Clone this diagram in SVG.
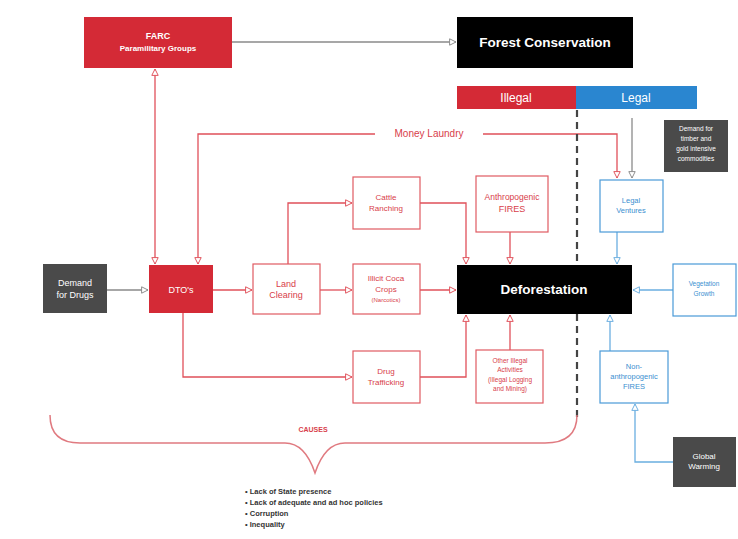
<svg xmlns="http://www.w3.org/2000/svg" width="738" height="539" viewBox="0 0 738 539">
<style>
text{font-family:"Liberation Sans",Arial,sans-serif;text-anchor:middle}
.wt{fill:#fff}
.rt{fill:#d8404a;font-size:8px}
.bt{fill:#3a8fd0;font-size:7.5px}
.redbox{fill:#fff;stroke:#e05a62;stroke-width:1.2}
.bluebox{fill:#fff;stroke:#4a9ad8;stroke-width:1.2}
.red{fill:none;stroke:#e0505a;stroke-width:1.3}
.blue{fill:none;stroke:#6aaee0;stroke-width:1.3}
.grey{fill:none;stroke:#8a8a8a;stroke-width:1.3}
</style>
<defs>
<marker id="ar" viewBox="0 0 10 10" refX="9" refY="5" markerWidth="8" markerHeight="8" orient="auto-start-reverse" markerUnits="userSpaceOnUse"><path d="M1,1 L9,5 L1,9 Z" fill="#fff" stroke="#e0505a" stroke-width="1.2"/></marker>
<marker id="ab" viewBox="0 0 10 10" refX="9" refY="5" markerWidth="8" markerHeight="8" orient="auto-start-reverse" markerUnits="userSpaceOnUse"><path d="M1,1 L9,5 L1,9 Z" fill="#fff" stroke="#6aaee0" stroke-width="1.2"/></marker>
<marker id="ag" viewBox="0 0 10 10" refX="9" refY="5" markerWidth="8" markerHeight="8" orient="auto-start-reverse" markerUnits="userSpaceOnUse"><path d="M1,1 L9,5 L1,9 Z" fill="#fff" stroke="#8a8a8a" stroke-width="1.2"/></marker>
</defs>
<rect width="738" height="539" fill="#fff"/>

<g id="connectors">
<path class="grey" d="M232,42 H456" marker-end="url(#ag)"/>
<path class="red" d="M155,69 V264" marker-start="url(#ar)" marker-end="url(#ar)"/>
<path class="red" d="M198,264 V134 H617 V178" marker-start="url(#ar)" marker-end="url(#ar)"/>
<path class="grey" d="M632,118 V178" marker-end="url(#ag)"/>
<path class="grey" d="M107,290 H148" marker-end="url(#ag)"/>
<path class="red" d="M213,290 H252" marker-end="url(#ar)"/>
<path class="red" d="M288,264 V203 H352" marker-end="url(#ar)"/>
<path class="red" d="M320,290 H352" marker-end="url(#ar)"/>
<path class="red" d="M420,290 H456" marker-end="url(#ar)"/>
<path class="red" d="M420,203 H466 V264" marker-end="url(#ar)"/>
<path class="red" d="M510,232 V264" marker-end="url(#ar)"/>
<path class="red" d="M183,313 V377 H352" marker-end="url(#ar)"/>
<path class="red" d="M420,377 H466 V315" marker-end="url(#ar)"/>
<path class="red" d="M510,350 V315" marker-end="url(#ar)"/>
<path class="blue" d="M617,232 V264" marker-end="url(#ab)"/>
<path class="blue" d="M673,290 H633" marker-end="url(#ab)"/>
<path class="blue" d="M610,351 V315" marker-end="url(#ab)"/>
<path class="blue" d="M673,462 H635 V404" marker-end="url(#ab)"/>
</g>

<line x1="577" y1="110" x2="577" y2="420" stroke="#444" stroke-width="2.2" stroke-dasharray="7,5"/>
<rect x="375" y="127" width="108" height="12" fill="#fff"/>
<text x="429" y="137" class="rt" style="font-size:10px">Money Laundry</text>

<g id="farc">
<rect x="84" y="17" width="148" height="51" fill="#d42a36"/>
<text x="158" y="39" class="wt" font-size="9" font-weight="bold">FARC</text>
<text x="158" y="51" class="wt" font-size="8" font-weight="bold">Paramilitary Groups</text>
</g>
<g id="forest">
<rect x="457" y="17" width="176" height="51" fill="#000"/>
<text x="545" y="47" class="wt" font-size="13.5" font-weight="bold">Forest Conservation</text>
</g>
<g id="illegal">
<rect x="457" y="86" width="119" height="23" fill="#d42a36"/>
<text x="516" y="102" class="wt" font-size="12">Illegal</text>
</g>
<g id="legal">
<rect x="576" y="86" width="121" height="23" fill="#2a86d0"/>
<text x="636" y="102" class="wt" font-size="12">Legal</text>
</g>
<g id="demandTimber">
<rect x="664" y="120" width="64" height="52" fill="#4a4a4a"/>
<text x="696" y="131" class="wt" font-size="6.5">Demand for</text>
<text x="696" y="141" class="wt" font-size="6.5">timber and</text>
<text x="696" y="151" class="wt" font-size="6.5">gold intensive</text>
<text x="696" y="161" class="wt" font-size="6.5">commodities</text>
</g>
<g id="legalVentures">
<rect x="600" y="180" width="63" height="52" class="bluebox"/>
<text x="631" y="203" class="bt">Legal</text>
<text x="631" y="213" class="bt">Ventures</text>
</g>
<g id="demandDrugs">
<rect x="43" y="264" width="64" height="49" fill="#4a4a4a"/>
<text x="75" y="286" class="wt" font-size="9">Demand</text>
<text x="75" y="298" class="wt" font-size="9">for Drugs</text>
</g>
<g id="dto">
<rect x="149" y="265" width="64" height="48" fill="#d42a36"/>
<text x="181" y="293" class="wt" font-size="9">DTO's</text>
</g>
<g id="landClearing">
<rect x="253" y="264" width="67" height="50" class="redbox"/>
<text x="286" y="287" class="rt" style="font-size:9px">Land</text>
<text x="286" y="298" class="rt" style="font-size:9px">Clearing</text>
</g>
<g id="cattle">
<rect x="353" y="177" width="67" height="52" class="redbox"/>
<text x="386" y="200" class="rt">Cattle</text>
<text x="386" y="211" class="rt">Ranching</text>
</g>
<g id="coca">
<rect x="353" y="264" width="67" height="50" class="redbox"/>
<text x="386" y="281" class="rt">Illicit Coca</text>
<text x="386" y="292" class="rt">Crops</text>
<text x="386" y="302" class="rt" style="font-size:6px">(Narcotics)</text>
</g>
<g id="fires">
<rect x="476" y="176" width="72" height="56" class="redbox"/>
<text x="512" y="200" class="rt" style="font-size:8.5px">Anthropogenic</text>
<text x="512" y="212" class="rt" style="font-size:9px">FIRES</text>
</g>
<g id="deforestation">
<rect x="457" y="265" width="175" height="49" fill="#000"/>
<text x="544" y="294" class="wt" font-size="13.5" font-weight="bold">Deforestation</text>
</g>
<g id="vegetation">
<rect x="673" y="264" width="63" height="52" class="bluebox"/>
<text x="704" y="286" class="bt" style="font-size:6.5px">Vegetation</text>
<text x="704" y="296" class="bt" style="font-size:6.5px">Growth</text>
</g>
<g id="drugTrafficking">
<rect x="353" y="351" width="67" height="52" class="redbox"/>
<text x="386" y="374" class="rt">Drug</text>
<text x="386" y="385" class="rt">Trafficking</text>
</g>
<g id="otherIllegal">
<rect x="476" y="350" width="67" height="53" class="redbox"/>
<text x="510" y="363" class="rt" style="font-size:6.5px">Other Illegal</text>
<text x="510" y="372" class="rt" style="font-size:6.5px">Activities</text>
<text x="510" y="382" class="rt" style="font-size:6.5px">(Illegal Logging</text>
<text x="510" y="391" class="rt" style="font-size:6.5px">and Mining)</text>
</g>
<g id="nonAnthro">
<rect x="600" y="351" width="68" height="52" class="bluebox"/>
<text x="634" y="369" class="bt">Non-</text>
<text x="634" y="379" class="bt">anthropogenic</text>
<text x="634" y="389" class="bt">FIRES</text>
</g>
<g id="globalWarming">
<rect x="673" y="437" width="63" height="50" fill="#4a4a4a"/>
<text x="704" y="459" class="wt" font-size="8">Global</text>
<text x="704" y="469" class="wt" font-size="8">Warming</text>
</g>

<g id="causes">
<path d="M50,415 Q50,443 80,443 H285 Q305,443 315,473 Q325,443 345,443 H545 Q577,443 577,415" fill="none" stroke="#e07a80" stroke-width="1.5"/>
<text x="313" y="432" class="rt" style="font-size:7px;font-weight:bold">CAUSES</text>
<g font-family="Liberation Sans,Arial,sans-serif" font-size="7.5" font-weight="bold" fill="#333">
<text x="245" y="494" style="text-anchor:start">•  Lack of State presence</text>
<text x="245" y="505" style="text-anchor:start">•  Lack of adequate and ad hoc policies</text>
<text x="245" y="516" style="text-anchor:start">•  Corruption</text>
<text x="245" y="527" style="text-anchor:start">•  Inequality</text>
</g>
</g>
</svg>
